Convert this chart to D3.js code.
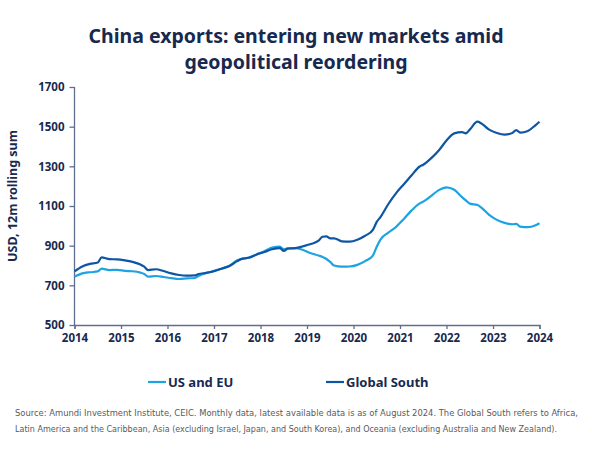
<!DOCTYPE html>
<html><head><meta charset="utf-8">
<script src="https://cdn.jsdelivr.net/npm/d3@7"></script>
<style>body{margin:0;background:#fff}svg{display:block}</style>
</head><body>
<script>
const months = ["2014-01","2014-03","2014-05","2014-07","2014-08","2014-10","2014-12",
"2015-02","2015-04","2015-06","2015-07","2015-08","2015-10","2015-12",
"2016-02","2016-04","2016-06","2016-08","2016-09","2016-11",
"2017-01","2017-03","2017-05","2017-07","2017-08","2017-10","2017-12",
"2018-02","2018-04","2018-06","2018-07","2018-08","2018-10","2018-12",
"2019-02","2019-04","2019-05","2019-06","2019-07","2019-08","2019-10","2019-12",
"2020-02","2020-04","2020-06","2020-07","2020-08","2020-10","2020-12",
"2021-02","2021-04","2021-06","2021-07","2021-09","2021-11",
"2022-01","2022-03","2022-05","2022-06","2022-07","2022-09","2022-10","2022-12",
"2023-02","2023-04","2023-06","2023-07","2023-08","2023-10","2023-12","2024-01"];
const globalSouth = [770,795,808,815,841,832,831,
826,818,805,794,777,781,772,
760,752,749,750,757,763,
771,784,797,822,832,839,855,
868,882,888,873,885,888,897,
908,925,945,947,937,937,922,920,
930,950,980,1020,1045,1110,1165,
1210,1255,1298,1308,1340,1380,
1430,1466,1472,1466,1485,1525,1516,1485,
1468,1460,1468,1483,1470,1478,1508,1525];
const usEu = [744,760,766,770,784,777,778,
773,771,764,757,744,747,742,
736,732,735,737,747,762,
773,785,799,826,833,840,856,
872,890,895,882,887,888,878,
862,850,843,833,818,800,794,795,
803,822,850,895,932,966,995,
1035,1078,1112,1122,1150,1180,
1194,1182,1145,1128,1112,1105,1092,1055,
1030,1015,1008,1010,996,993,1003,1013];
const yTicks = [500,700,900,1100,1300,1500,1700];
const xTicks = [2014,2015,2016,2017,2018,2019,2020,2021,2022,2023,2024];
const seriesNames = ["US and EU","Global South"];
const colors = ["#1ca3e3","#0e55a3"];

const W=592,H=450;
const svg=d3.select("body").append("svg").attr("width",W).attr("height",H);
const navy="#17294f", axisCol="#5f6e8c";
const font="'Noto Sans', sans-serif";

const toYear = m => { const [y,mo]=m.split("-").map(Number); return y+(mo-1)/12; };
const x=d3.scaleLinear().domain([2014,2024]).range([74.5,539.5]);
const y=d3.scaleLinear().domain([500,1700]).range([325,87]);

// title
["China exports: entering new markets amid","geopolitical reordering"].forEach((t,i)=>{
  svg.append("text").attr("text-anchor","middle").attr("font-family",font)
    .attr("font-weight","bold").attr("font-size",19.5).attr("fill",navy)
    .attr("x",296).attr("y",43+i*25.5).text(t);
});

// axes
const yAxis=svg.append("g").attr("transform","translate(74.5,0)")
  .call(d3.axisLeft(y).tickValues(yTicks).tickSize(5).tickPadding(5).tickFormat(d3.format("d")));
const xAxis=svg.append("g").attr("transform","translate(0,325)")
  .call(d3.axisBottom(x).tickValues(xTicks).tickSize(4).tickPadding(5).tickFormat(d3.format("d")));
[yAxis,xAxis].forEach(g=>{
  g.select(".domain").attr("stroke",axisCol).attr("stroke-width",1.3);
  g.selectAll(".tick line").attr("stroke",axisCol).attr("stroke-width",1.3);
  g.selectAll(".tick text").attr("fill",navy).attr("font-family",font)
    .attr("font-weight","bold").attr("font-size",11.5);
});
yAxis.select(".domain").attr("d","M-0,87V325");

svg.append("text").attr("transform","translate(17,196) rotate(-90)")
  .attr("text-anchor","middle").attr("font-family",font).attr("font-weight","bold")
  .attr("font-size",12.5).attr("fill",navy).text("USD, 12m rolling sum");

// lines
const line=d3.line().x(d=>x(d[0])).y(d=>y(d[1])).curve(d3.curveMonotoneX);
const dataSets=[usEu,globalSouth];
dataSets.forEach((vals,i)=>{
  svg.append("path").datum(months.map((m,j)=>[toYear(m),vals[j]]))
    .attr("d",line).attr("fill","none").attr("stroke",colors[i]).attr("stroke-width",2.2)
    .attr("stroke-linejoin","round");
});

// legend
const legX=[148,326];
seriesNames.forEach((n,i)=>{
  svg.append("line").attr("x1",legX[i]).attr("x2",legX[i]+18).attr("y1",382).attr("y2",382)
    .attr("stroke",colors[i]).attr("stroke-width",2.2);
  svg.append("text").attr("x",legX[i]+20).attr("y",386.5).attr("font-family",font)
    .attr("font-weight","bold").attr("font-size",13).attr("fill",navy).text(n);
});

// source
const src=["Source: Amundi Investment Institute, CEIC. Monthly data, latest available data is as of August 2024. The Global South refers to Africa,",
"Latin America and the Caribbean, Asia (excluding Israel, Japan, and South Korea), and Oceania (excluding Australia and New Zealand)."];
const srcLen=[563,542];
src.forEach((s,i)=>{
  svg.append("text").attr("x",15).attr("y",416+i*16).attr("font-family","'Liberation Sans Narrow','DejaVu Sans Condensed',sans-serif")
    .attr("font-size",9.2).attr("fill","#5a5a5a").attr("textLength",srcLen[i])
    .attr("lengthAdjust","spacingAndGlyphs").text(s);
});
</script>
</body></html>
